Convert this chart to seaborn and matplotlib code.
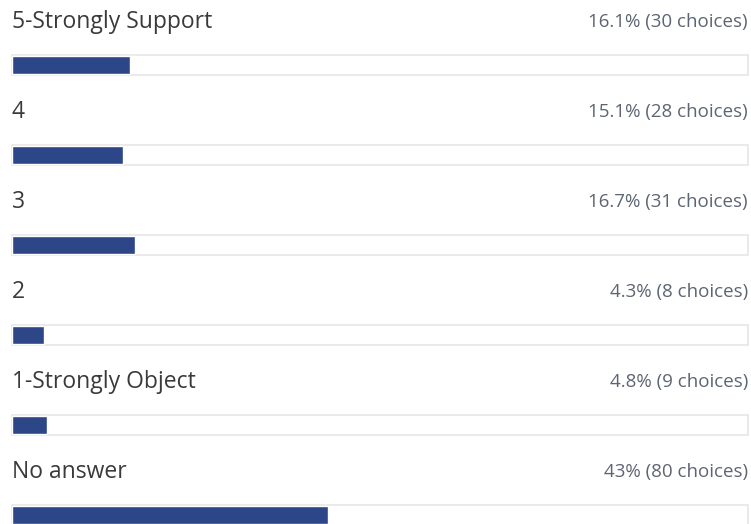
import matplotlib
matplotlib.use("Agg")
import matplotlib.pyplot as plt
import seaborn as sns
import pandas as pd

options = ["5-Strongly Support", "4", "3", "2", "1-Strongly Object", "No answer"]
percents = [16.1, 15.1, 16.7, 4.3, 4.8, 43.0]
pct_labels = ["16.1%", "15.1%", "16.7%", "4.3%", "4.8%", "43%"]
choices = [30, 28, 31, 8, 9, 80]

df = pd.DataFrame({"option": options, "percent": percents, "track": [100] * len(options)})

sns.set_theme(style="white")
plt.rcParams["font.family"] = ["Open Sans", "DejaVu Sans"]

fig = plt.figure(figsize=(7.51, 5.24), dpi=100)
ax = fig.add_axes([0, 0, 1, 1])

# grey outlined track behind each bar
sns.barplot(data=df, x="track", y="option", orient="h", color="white",
            edgecolor="#e6e6e6", linewidth=1.2, width=0.23, ax=ax)
# the filled part
sns.barplot(data=df, x="percent", y="option", orient="h", color="#2c4687",
            saturation=1, width=0.21, ax=ax)

for i, (opt, p, c) in enumerate(zip(options, pct_labels, choices)):
    ax.text(0, i - 0.48, opt, ha="left", va="center", fontsize=16.5,
            fontweight="medium", color="#3a3a3a")
    ax.text(100, i - 0.48, f"{p} ({c} choices)", ha="right", va="center",
            fontsize=13.5, color="#5d6573")

ax.set_xlim(-1.63, 100.41)
ax.set_ylim(5.1, -0.722)
ax.axis("off")

fig.savefig("out.png", dpi=100)
